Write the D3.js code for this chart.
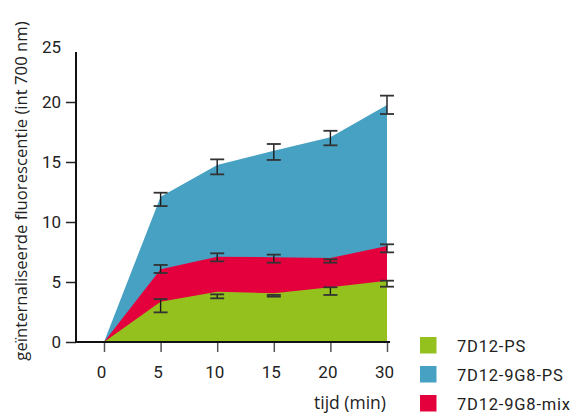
<!DOCTYPE html>
<html><head><meta charset="utf-8">
<script src="https://cdn.jsdelivr.net/npm/d3@7"></script>
<style>body{margin:0;background:#fff}svg{display:block}</style>
</head><body><svg id="c" width="575" height="414"></svg>
<script>
// data
const times = [0, 5, 10, 15, 20, 30];
const yTicks = [0, 5, 10, 15, 20, 25];
const seriesNames = ["7D12-PS", "7D12-9G8-mix", "7D12-9G8-PS"];
const green = [0, 3.36, 4.19, 4.06, 4.56, 5.11];   // 7D12-PS
const red   = [0, 2.70, 2.92, 3.00, 2.44, 2.89];   // 7D12-9G8-mix (stacked on green)
const blue  = [0, 6.05, 7.64, 8.88, 10.06, 11.75]; // 7D12-9G8-PS (stacked on red)
// error bars as read on the stacked chart (low / high), for t = 5..30
const errTimes = [5, 10, 15, 20, 30];
const greenLo = [2.47, 3.64, 3.78, 3.92, 4.61], greenHi = [3.58, 3.97, 3.92, 4.56, 5.11];
const redLo   = [5.75, 6.72, 6.61, 6.61, 7.47], redHi   = [6.42, 7.39, 7.28, 6.89, 8.14];
const blueLo  = [11.33, 13.97, 15.17, 16.39, 19.00], blueHi = [12.44, 15.22, 16.50, 17.60, 20.53];
const legendOrder = ["7D12-PS", "7D12-9G8-PS", "7D12-9G8-mix"];

const colors = {"7D12-PS": "#95C11F", "7D12-9G8-PS": "#47A1C2", "7D12-9G8-mix": "#E4003D"};
const svg = d3.select("#c");
const font = "Roboto, sans-serif";

const x = d3.scalePoint().domain(times).range([104, 387]);
const y = d3.scaleLinear().domain([0, 25]).range([342, 42]);

const table = times.map((t, i) => ({t, "7D12-PS": green[i], "7D12-9G8-mix": red[i], "7D12-9G8-PS": blue[i]}));
const stack = d3.stack().keys(seriesNames)(table);

// draw top series first, each from 0 so edges blend like reference
const area = d3.area().x(d => x(d.data.t)).y0(y(0)).y1(d => y(d[1]));
[...stack].reverse().forEach(s => {
  svg.append("path").datum(s).attr("d", area).attr("fill", colors[s.key]);
});

// error bars
function errBars(lo, hi) {
  const g = svg.append("g").attr("stroke", "#1a1a1a").attr("stroke-width", 1.4).attr("fill", "none");
  errTimes.forEach((t, i) => {
    const cx = x(t);
    g.append("line").attr("x1", cx).attr("x2", cx).attr("y1", y(lo[i])).attr("y2", y(hi[i]));
    g.append("line").attr("x1", cx - 7).attr("x2", cx + 7).attr("y1", y(lo[i])).attr("y2", y(lo[i])).attr("stroke", "#333").attr("stroke-width", 1.8);
    g.append("line").attr("x1", cx - 7).attr("x2", cx + 7).attr("y1", y(hi[i])).attr("y2", y(hi[i])).attr("stroke", "#333").attr("stroke-width", 1.8);
  });
}
errBars(greenLo, greenHi);
errBars(redLo, redHi);
errBars(blueLo, blueHi);

// y axis
const yAxis = svg.append("g").attr("transform", "translate(76,0)")
  .call(d3.axisLeft(y).tickValues(yTicks).tickSize(10).tickPadding(5).tickSizeOuter(0));
yAxis.select(".domain").remove();
yAxis.selectAll(".tick").filter(d => d === 25).select("line").remove();
yAxis.selectAll(".tick line").attr("stroke", "#222").attr("stroke-width", 1.5);
yAxis.selectAll(".tick text").attr("font-family", font).attr("font-size", 17).attr("fill", "#222").attr("dy", "0.34em");
yAxis.selectAll(".tick").filter(d => d === 25).select("text").attr("dy", "0.6em");
svg.append("line").attr("x1", 76).attr("x2", 76).attr("y1", 52).attr("y2", 342).attr("stroke", "#111").attr("stroke-width", 2);

// x axis
const xAxis = svg.append("g").attr("transform", "translate(0,342)")
  .call(d3.axisBottom(x).tickSize(10).tickPadding(14).tickSizeOuter(0));
xAxis.select(".domain").remove();
xAxis.selectAll(".tick line").attr("stroke", "#555").attr("stroke-width", 1.5);
xAxis.selectAll(".tick text").attr("font-family", font).attr("font-size", 17).attr("fill", "#222").attr("dx", "-3");
svg.append("line").attr("x1", 75).attr("x2", 390).attr("y1", 342).attr("y2", 342).attr("stroke", "#111").attr("stroke-width", 2);

// axis titles
svg.append("text").attr("x", 386).attr("y", 409).attr("text-anchor", "end")
  .attr("font-family", "'Open Sans', sans-serif").attr("font-size", 17.5).attr("fill", "#222").text("tijd (min)");
svg.append("text").attr("transform", "translate(27,191) rotate(-90)").attr("text-anchor", "middle")
  .attr("font-family", "'Open Sans', sans-serif").attr("font-size", 16.7).attr("fill", "#222")
  .text("geïnternaliseerde fluorescentie (int 700 nm)");

// legend
const leg = svg.append("g");
legendOrder.forEach((k, i) => {
  const yy = 337 + i * 29;
  leg.append("rect").attr("x", 420).attr("y", yy).attr("width", 16.5).attr("height", 16.5).attr("fill", colors[k]);
  leg.append("text").attr("x", 457).attr("y", yy + 14.5).attr("font-family", font).attr("font-size", 16.5)
    .attr("letter-spacing", 0.8).attr("fill", "#222").text(k);
});
</script></body></html>
